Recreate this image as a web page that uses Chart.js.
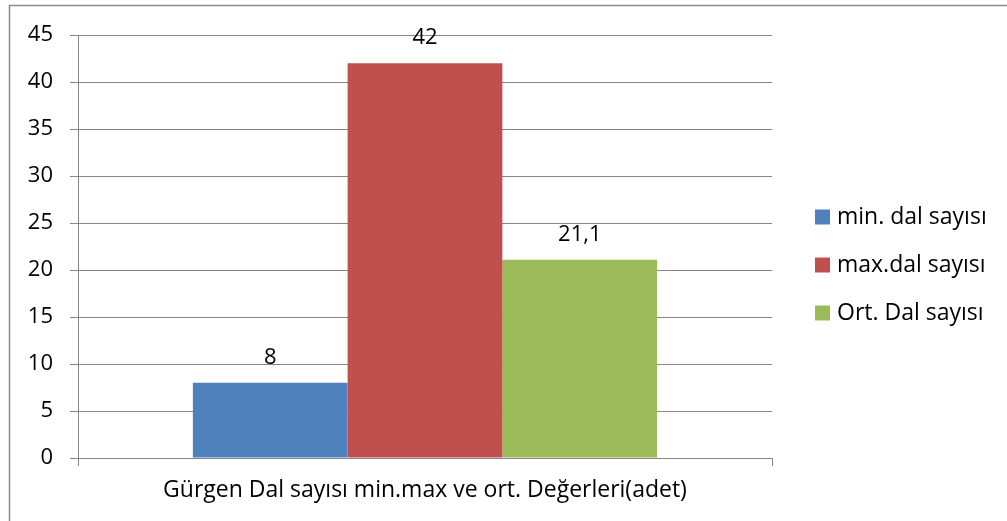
<!DOCTYPE html>
<html>
<head>
<meta charset="utf-8">
<script src="https://cdn.jsdelivr.net/npm/chart.js@4"></script>
<style>
    html, body { margin: 0; padding: 0; background: #fff; }
    #wrap { width: 1007px; height: 521px; position: relative; }
</style>
</head>
<body>
<div id="wrap"><canvas id="chart"></canvas></div>
<script>
// ---------------- DATA ----------------
const categories = ["Gürgen Dal sayısı min.max ve ort. Değerleri(adet)"];
const seriesNames = ["min. dal sayısı", "max.dal sayısı", "Ort. Dal sayısı"];
const minValues = [8];
const maxValues = [42];
const avgValues = [21.1];
const seriesColors = ["#4F81BD", "#C0504D", "#9BBB59"];
const yMax = 45;
const yStep = 5;

const FONT = "'Open Sans', 'Noto Sans', sans-serif";
const GRID = "#868686";

// ---------------- PLUGINS ----------------
const frame = {
    id: "frame",
    beforeDraw(chart) {
        const ctx = chart.ctx;
        ctx.save();
        ctx.fillStyle = "#fff";
        ctx.fillRect(0, 0, chart.width, chart.height);
        ctx.strokeStyle = "#8c8c8c";
        ctx.lineWidth = 1.5;
        ctx.strokeRect(9.5, 5.5, chart.width + 20, chart.height + 20);
        ctx.restore();
    }
};

const valueLabels = {
    id: "valueLabels",
    afterDatasetsDraw(chart) {
        const ctx = chart.ctx;
        ctx.save();
        ctx.font = "22px " + FONT;
        ctx.fillStyle = "#000";
        ctx.textAlign = "center";
        ctx.textBaseline = "alphabetic";
        chart.data.datasets.forEach((ds, i) => {
            chart.getDatasetMeta(i).data.forEach((bar, j) => {
                const txt = String(ds.data[j]).replace(".", ",");
                ctx.fillText(txt, bar.x, bar.y - 19);
            });
        });
        ctx.restore();
    }
};

const sideLegend = {
    id: "sideLegend",
    afterDraw(chart) {
        const ctx = chart.ctx;
        const x0 = 815;
        const ys = [217, 265, 313];
        ctx.save();
        ctx.font = "23px " + FONT;
        ctx.textBaseline = "middle";
        ctx.textAlign = "left";
        chart.data.datasets.forEach((ds, i) => {
            ctx.fillStyle = ds.backgroundColor;
            ctx.fillRect(x0, ys[i] - 7.5, 15, 15);
            ctx.fillStyle = "#000";
            ctx.fillText(ds.label, x0 + 22, ys[i]);
        });
        ctx.restore();
    }
};

// ---------------- CHART ----------------
new Chart(document.getElementById("chart"), {
    type: "bar",
    data: {
        labels: categories,
        datasets: [
            { label: seriesNames[0], data: minValues, backgroundColor: seriesColors[0] },
            { label: seriesNames[1], data: maxValues, backgroundColor: seriesColors[1] },
            { label: seriesNames[2], data: avgValues, backgroundColor: seriesColors[2] }
        ]
    },
    options: {
        responsive: true,
        maintainAspectRatio: false,
        animation: false,
        layout: { padding: { top: 35, right: 235, bottom: 0, left: 0 } },
        datasets: { bar: { categoryPercentage: 0.669, barPercentage: 1, borderWidth: 0 } },
        plugins: {
            legend: { display: false },
            tooltip: { enabled: false }
        },
        scales: {
            x: {
                offset: true,
                grid: { display: true, drawOnChartArea: false, drawTicks: true, tickLength: 8, color: GRID, offset: true },
                border: { color: GRID, width: 1 },
                ticks: { color: "#000", font: { family: FONT, size: 23 }, padding: 11, maxRotation: 0 },
                afterFit: s => { s.height = 63; }
            },
            y: {
                min: 0,
                max: yMax,
                ticks: { stepSize: yStep, color: "#000", font: { family: FONT, size: 22 }, padding: 17 },
                grid: { color: GRID, tickLength: 8, lineWidth: 1 },
                border: { color: GRID, width: 1 },
                afterFit: s => { s.width = 78; }
            }
        }
    },
    plugins: [frame, valueLabels, sideLegend]
});
</script>
</body>
</html>
